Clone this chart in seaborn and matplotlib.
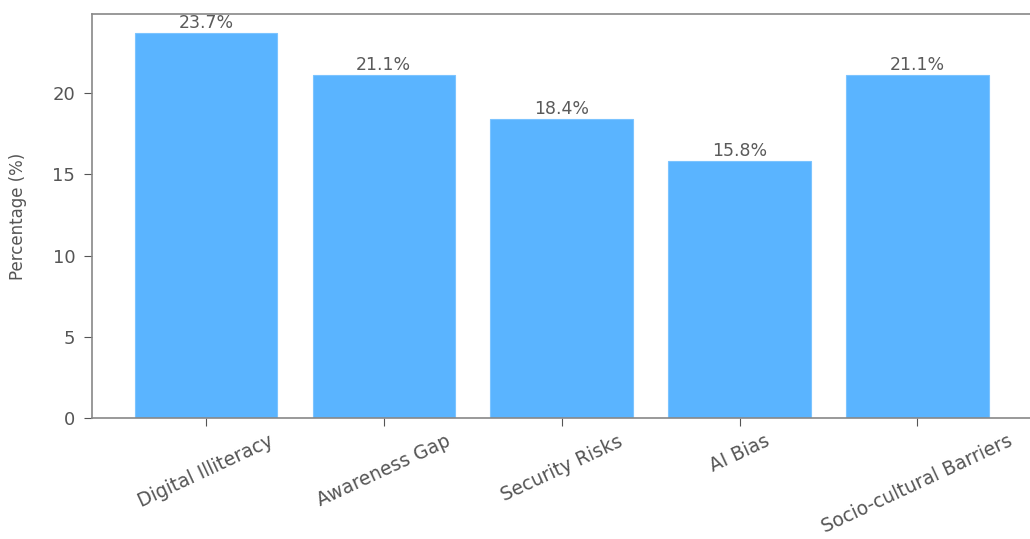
import matplotlib
matplotlib.use("Agg")
import matplotlib.pyplot as plt
import seaborn as sns
import pandas as pd

categories = ["Digital Illiteracy", "Awareness Gap", "Security Risks", "AI Bias", "Socio-cultural Barriers"]
percentages = [23.7, 21.1, 18.4, 15.8, 21.1]

sns.set_style("ticks")
plt.rcParams['font.family'] = ['DejaVu Sans']

df = pd.DataFrame({"Challenge": categories, "Percentage": percentages})

fig = plt.figure(figsize=(10.3, 5.39), dpi=100)
ax = fig.add_axes([0.0893, 0.2245, 0.912, 0.7495])

sns.barplot(data=df, x="Challenge", y="Percentage", color="#5AB4FF", saturation=1,
            width=0.8, ax=ax)
for p in ax.patches:
    p.set_edgecolor("#7cc4ff")
    p.set_linewidth(0.8)

ax.set_xlim(-0.64, 4.64)
ax.set_ylim(0, 24.885)
ax.set_yticks([0, 5, 10, 15, 20])

for i, v in enumerate(percentages):
    ax.text(i, v + 0.1, f"{v}%", ha="center", va="bottom", fontsize=12.5,
            color="#5a5a5a", family="DejaVu Sans")

ax.set_xlabel("")
ax.set_ylabel("Percentage (%)", fontsize=12, color="#555555", family="DejaVu Sans")
ax.yaxis.set_label_coords(-0.069, 0.5)
ax.tick_params(axis="x", labelrotation=25, labelsize=13.5, colors="#555555", length=6, pad=4)
ax.tick_params(axis="y", labelsize=13, colors="#555555", length=6, pad=6)
for lab in ax.get_xticklabels() + ax.get_yticklabels():
    lab.set_family("DejaVu Sans")
for lab in ax.get_xticklabels():
    lab.set_ha("center")

for s in ax.spines.values():
    s.set_color("#888888")
    s.set_linewidth(1.2)

fig.savefig("out.png", dpi=100)
